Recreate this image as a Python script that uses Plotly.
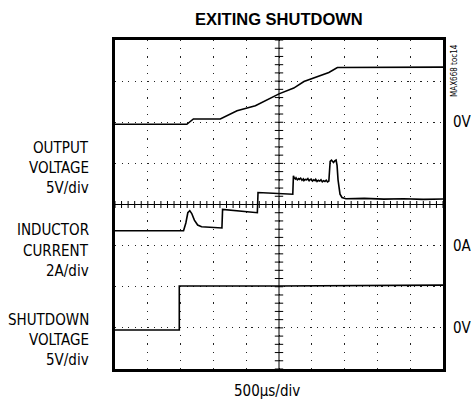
import numpy as np
import plotly.graph_objects as go

# time base: 500us/div, 10 divisions -> 0..5 ms
t_out = [0, 1.095, 1.195, 1.605, 1.86, 2.14, 2.5, 2.725, 2.88, 3.03, 3.26, 3.39, 4.2, 5.0]
v_out = [-0.25, -0.25, 0.4, 0.4, 1.4, 2.0, 3.45, 4.15, 4.95, 5.35, 6.05, 6.65, 6.65, 6.7]  # V

t_ind = [0, 1.045, 1.08, 1.11, 1.14, 1.17, 1.21, 1.26, 1.32, 1.63, 1.64, 2.17, 2.18, 2.71,
         2.72, 2.73, 2.75, 2.76, 2.78, 2.80, 2.81, 2.83, 2.85, 2.87, 2.88, 2.90, 2.92, 2.94,
         2.96, 2.97, 2.99, 3.01, 3.03, 3.05, 3.06, 3.08, 3.10, 3.12, 3.14, 3.16, 3.18, 3.20,
         3.22, 3.24, 3.26, 3.27, 3.28, 3.30, 3.31, 3.33, 3.35, 3.37, 3.385, 3.40, 3.43,
         3.46, 3.52, 3.8, 4.1, 4.4, 4.7, 5.0]
i_ind = [0.72, 0.72, 1.1, 1.6, 1.7, 1.56, 1.24, 1.0, 0.92, 0.86, 1.76, 1.6, 2.58, 2.5,
         3.4, 3.3, 3.24, 3.3, 3.2, 3.26, 3.22, 3.28, 3.18, 3.24, 3.16, 3.22, 3.2, 3.26,
         3.14, 3.2, 3.24, 3.14, 3.2, 3.16, 3.22, 3.12, 3.18, 3.14, 3.2, 3.1, 3.16, 3.12,
         3.18, 3.1, 3.14, 3.8, 4.1, 4.16, 4.1, 4.04, 4.12, 4.16, 3.9, 3.2, 2.5,
         2.34, 2.28, 2.3, 2.26, 2.28, 2.25, 2.27]  # A

t_sd = [0, 0.98, 0.98, 2.5, 5.0]
v_sd = [-0.25, -0.25, 5.1, 5.1, 5.2]  # V

# channel settings: (zero position in div, units per div)
OUT_ZERO, OUT_SCALE = 6, 5.0
IND_ZERO, IND_SCALE = 3, 2.0
SD_ZERO, SD_SCALE = 1, 5.0

FONT = "Liberation Sans Narrow, DejaVu Sans Condensed, Liberation Sans, sans-serif"


def to_div(vals, zero, scale):
    return [zero + v / scale for v in vals]


fig = go.Figure()

# center cross with tick marks
hx = np.arange(0, 5.0001, 0.1)
fig.add_trace(go.Scatter(x=hx, y=[4] * len(hx), mode="markers", hoverinfo="skip",
                         marker=dict(symbol="line-ns", size=5, line=dict(width=1, color="black"))))
vy = np.arange(0, 8.0001, 0.2)
fig.add_trace(go.Scatter(x=[2.5] * len(vy), y=vy, mode="markers", hoverinfo="skip",
                         marker=dict(symbol="line-ew", size=6, line=dict(width=1, color="black"))))

for t, v, z, s in [(t_out, v_out, OUT_ZERO, OUT_SCALE),
                   (t_ind, i_ind, IND_ZERO, IND_SCALE),
                   (t_sd, v_sd, SD_ZERO, SD_SCALE)]:
    fig.add_trace(go.Scatter(x=t, y=to_div(v, z, s), mode="lines",
                             line=dict(color="black", width=1.6)))

fig.add_shape(type="line", x0=0, x1=5, y0=4, y1=4, line=dict(color="black", width=1))
fig.add_shape(type="line", x0=2.5, x1=2.5, y0=0, y1=8, line=dict(color="black", width=1))

ann = []
left_labels = [("OUTPUT", 5.37), ("VOLTAGE", 4.89), ("5V/div", 4.40),
               ("INDUCTOR", 3.38), ("CURRENT", 2.88), ("2A/div", 2.38),
               ("SHUTDOWN", 1.19), ("VOLTAGE", 0.705), ("5V/div", 0.22)]
for txt, yy in left_labels:
    ann.append(dict(text=txt, x=-0.072, xref="paper", y=yy, yref="y", xanchor="right",
                    yanchor="middle", showarrow=False, font=dict(size=15)))
for txt, yy in [("0V", OUT_ZERO), ("0A", IND_ZERO), ("0V", SD_ZERO)]:
    ann.append(dict(text=txt, x=1.027, xref="paper", y=yy, yref="y", xanchor="left",
                    yanchor="middle", showarrow=False, borderpad=0, font=dict(size=15)))
ann.append(dict(text="MAX668 toc14", x=1.037, xref="paper", y=7.25, yref="y", textangle=-90,
                xanchor="center", yanchor="middle", showarrow=False, font=dict(size=8)))
ann.append(dict(text="<b>EXITING SHUTDOWN</b>", x=0.5, xref="paper", y=1.0957, yref="paper",
                xanchor="center", yanchor="top", showarrow=False, borderpad=0,
                font=dict(size=16.5, family="Liberation Sans, sans-serif")))
ann.append(dict(text="500µs/div", x=0.463, xref="paper", y=-0.067, yref="paper",
                xanchor="center", yanchor="middle", showarrow=False, font=dict(size=15)))

fig.update_layout(
    width=471, height=403,
    margin=dict(l=115, r=28, t=40, b=34),
    paper_bgcolor="white", plot_bgcolor="white",
    showlegend=False,
    font=dict(family=FONT, color="black"),
    annotations=ann,
)
fig.update_xaxes(range=[0, 5], dtick=0.5, showticklabels=False, ticks="",
                 showgrid=True, gridcolor="#222", gridwidth=1.2, griddash="1.2px,7px",
                 zeroline=False, showline=True, linewidth=3, linecolor="black", mirror=True)
fig.update_yaxes(range=[0, 8], dtick=1, showticklabels=False, ticks="",
                 showgrid=True, gridcolor="#222", gridwidth=1.2, griddash="1.2px,5.3px",
                 zeroline=False, showline=True, linewidth=3, linecolor="black", mirror=True)

# drop the default 8px page margin so the figure fills the window exactly
fig.write_html("out.html", config={"displayModeBar": False},
               post_script="document.body.style.margin='0';")
